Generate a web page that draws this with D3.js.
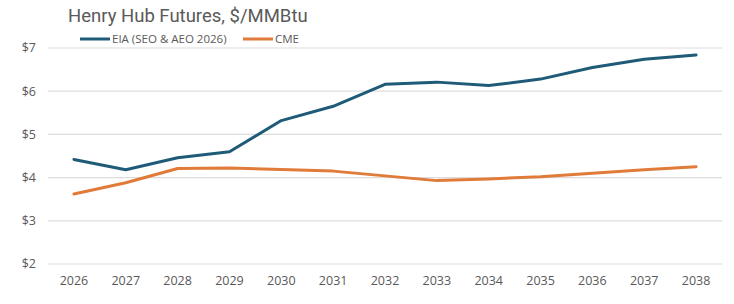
<!DOCTYPE html>
<html>
<head>
<meta charset="utf-8">
<script src="https://cdn.jsdelivr.net/npm/d3@7"></script>
<style>
  body { margin: 0; background: #fff; }
  text { font-family: "Open Sans", "Liberation Sans", sans-serif; fill: #595959; }
</style>
</head>
<body>
<svg width="734" height="304"></svg>
<script>
const years = ["2026", "2027", "2028", "2029", "2030", "2031", "2032",
  "2033", "2034", "2035", "2036", "2037", "2038"];
const eia = [4.42, 4.18, 4.46, 4.60, 5.32, 5.65, 6.16, 6.21, 6.13, 6.28, 6.55, 6.74, 6.84];
const cme = [3.62, 3.88, 4.21, 4.22, 4.19, 4.15, 4.04, 3.93, 3.97, 4.02, 4.10, 4.18, 4.25];
const yTicks = [2, 3, 4, 5, 6, 7];

var svg = d3.select("svg");

var x = d3.scalePoint()
  .domain(years)
  .range([48, 722])
  .padding(0.5);

var y = d3.scaleLinear()
  .domain([2, 7])
  .range([264, 48]);

// gridlines
svg.append("g")
  .selectAll("line")
  .data(yTicks)
  .enter()
  .append("line")
  .attr("x1", 48)
  .attr("x2", 722)
  .attr("y1", d => y(d))
  .attr("y2", d => y(d))
  .style("stroke", "#dcdcdc")
  .style("stroke-width", 1.2);

// y labels
svg.append("g")
  .selectAll("text")
  .data(yTicks)
  .enter()
  .append("text")
  .attr("x", 36)
  .attr("y", d => y(d))
  .attr("dy", "0.35em")
  .attr("text-anchor", "end")
  .style("font-size", "12.5px")
  .text(d => "$" + d);

// x labels
svg.append("g")
  .selectAll("text")
  .data(years)
  .enter()
  .append("text")
  .attr("x", d => x(d))
  .attr("y", 281)
  .attr("dy", "0.35em")
  .attr("text-anchor", "middle")
  .style("font-size", "12.5px")
  .text(d => d);

var line = d3.line()
  .x((d, i) => x(years[i]))
  .y(d => y(d));

var series = [
  { name: "EIA (SEO & AEO 2026)", values: eia, color: "#1f5b78" },
  { name: "CME", values: cme, color: "#e07b39" }
];

svg.selectAll(".series")
  .data(series)
  .enter()
  .append("path")
  .attr("class", "series")
  .attr("d", d => line(d.values))
  .style("fill", "none")
  .style("stroke", d => d.color)
  .style("stroke-width", 3)
  .style("stroke-linejoin", "round")
  .style("stroke-linecap", "round");

// title
svg.append("text")
  .attr("x", 68)
  .attr("y", 22)
  .style("font-family", "Roboto, sans-serif")
  .style("font-size", "18.5px")
  .text("Henry Hub Futures, $/MMBtu");

// legend
var legX = [80, 243];
var leg = svg.selectAll(".legend")
  .data(series)
  .enter()
  .append("g")
  .attr("class", "legend")
  .attr("transform", (d, i) => `translate(${legX[i]},39)`);

leg.append("line")
  .attr("x1", 0)
  .attr("x2", 30)
  .style("stroke", d => d.color)
  .style("stroke-width", 3);

leg.append("text")
  .attr("x", 32)
  .attr("dy", "0.35em")
  .style("font-size", "11.5px")
  .text(d => d.name);
</script>
</body>
</html>
